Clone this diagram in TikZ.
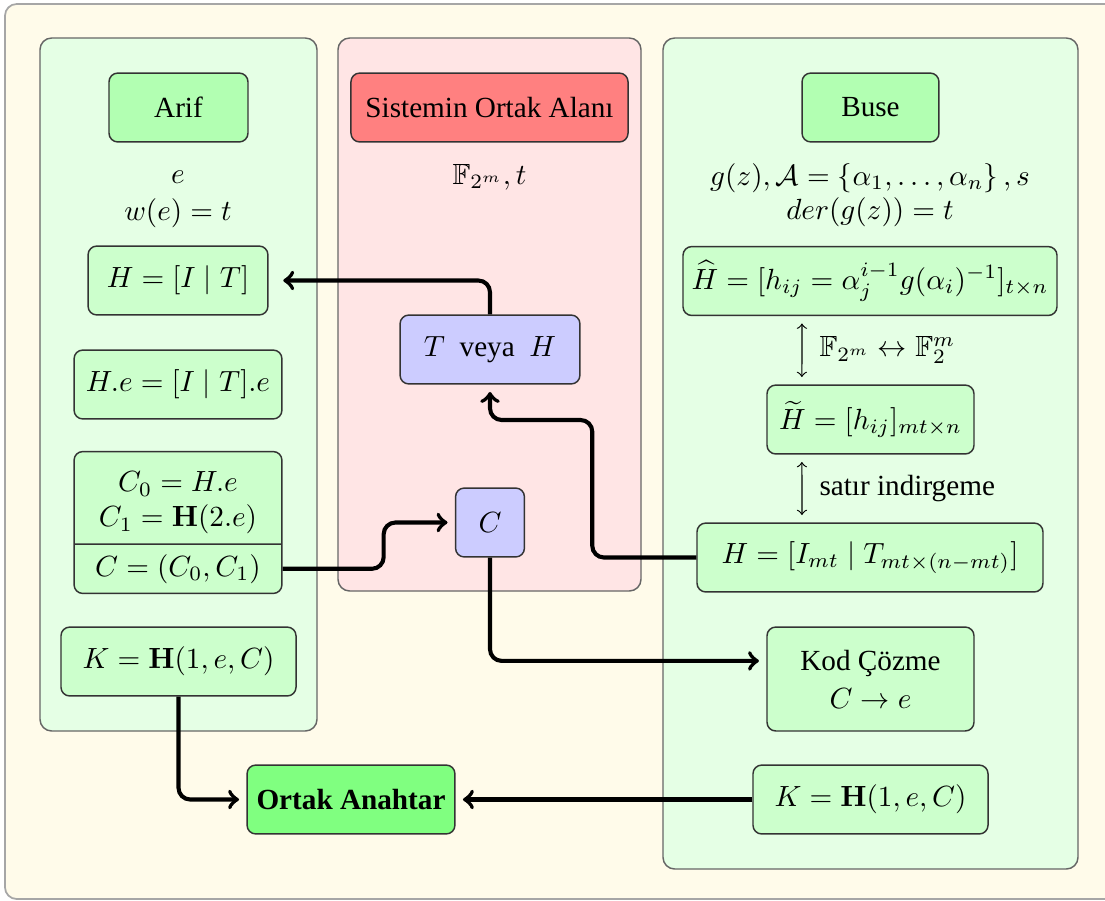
\documentclass[tikz,border=0pt]{standalone}
\usepackage{amsmath,amssymb}
\usepackage[no-math]{fontspec}
\setmainfont{Liberation Serif}
\usetikzlibrary{shapes.multipart,calc}
\definecolor{bgyel}{RGB}{255,251,234}
\tikzset{
  box/.style={draw=black!80, line width=0.5pt, rounded corners=3pt, minimum height=23.6pt, inner sep=2pt, align=center},
  panel/.style={draw=black!60, line width=0.5pt, rounded corners=4pt},
  arr/.style={line width=1.4pt, ->, rounded corners=4pt, shorten >=2.5pt},
  dbl/.style={line width=0.4pt, <->, shorten >=2.5pt, shorten <=2.5pt},
}
\begin{document}
\begin{tikzpicture}[x=0.3425pt, y=-0.3425pt]
\useasboundingbox (0,0) rectangle (1105,900);
% background and panels
\draw[fill=bgyel, draw=black!35, line width=0.6pt, rounded corners=4pt] (5,4) rectangle (1120,899);
\draw[panel, fill=green!10] (40,38) rectangle (317,731);
\draw[panel, fill=red!10] (338,38) rectangle (641,591);
\draw[panel, fill=green!10] (663,38) rectangle (1078,869);

% headers
\node[box, fill=green!30, minimum width=47.6pt] (arif) at (178.5,107.5) {Arif};
\node[box, fill=red!50, minimum width=94.9pt] (sist) at (489.5,107.5) {Sistemin Ortak Alanı};
\node[box, fill=green!30, minimum width=46.9pt] (buse) at (870.5,107.5) {Buse};

% parameters
\node[anchor=base] (ee) at (178,183) {$e$};
\node[anchor=base] (we) at (178,220) {$w(e)=t$};
\node[anchor=base] (fld) at (489.5,184) {$\mathbb{F}_{2^m}, t$};
\node[anchor=base] (gz) at (870,185) {$g(z), \mathcal{A}=\left\{\alpha_1,\ldots,\alpha_n\right\}, s$};
\node[anchor=base] (dg) at (870,219) {$der(g(z))=t$};

% left column
\node[box, fill=green!20, minimum height=0pt, rectangle split, rectangle split parts=2,
      text width=65pt, inner xsep=3.1pt, inner ysep=3.2pt] (cs) at (178,522.5)
  {\mbox{\rule{0pt}{10.3pt}$C_0=H.e$}\\\mbox{$C_1=\mathbf{H}(2.e)$}\nodepart{two}\mbox{$C=(C_0,C_1)$}};
\node[box, fill=green!20, minimum width=61.6pt] (hit) at (178,280.5) {$H=[I\mid T]$};
\node[box, fill=green!20, minimum width=71.2pt] (hde) at (178,384.5) {$H.e=[I\mid T].e$};
\node[box, fill=green!20, minimum width=80.5pt] (kl) at (178.5,661.5) {$K=\mathbf{H}(1,e,C)$};

% middle column
\node[box, fill=blue!20, minimum width=61.6pt] (tvh) at (490,349.5) {$T$~~veya~~$H$};
\node[box, fill=blue!20, minimum width=23.6pt] (cn) at (490,522.5) {$C$};
\node[box, fill=green!50, minimum width=71.2pt] (ortak) at (351,799.5) {\textbf{Ortak Anahtar}};

% right column
\node[box, fill=green!20, minimum width=128.1pt] (hhat) at (870,281)
  {$\widehat{H}=[h_{ij}=\alpha_j^{i-1}g(\alpha_i)^{-1}]_{t\times n}$};
\node[box, fill=green!20, minimum width=70.9pt] (htil) at (870.5,419.5) {$\widetilde{H}=[h_{ij}]_{mt\times n}$};
\node[box, fill=green!20, minimum width=118.5pt] (hr) at (870,557.5) {$H=[I_{mt}\mid T_{mt\times(n-mt)}]$};
\node[box, fill=green!20, minimum width=70.9pt, minimum height=35.6pt] (kod) at (870.5,679) {Kod Çözme\\[1pt]$C\rightarrow e$};
\node[box, fill=green!20, minimum width=80.5pt] (kr) at (870.5,799.5) {$K=\mathbf{H}(1,e,C)$};

% thin double arrows
\draw[dbl] ([xshift=-23.3pt]hhat.south) -- node[right, xshift=2.5pt] {$\mathbb{F}_{2^m}\leftrightarrow\mathbb{F}_2^m$} ([xshift=-23.5pt]htil.north);
\draw[dbl] ([xshift=-23.5pt]htil.south) -- node[right, xshift=2.5pt] {satır indirgeme} ([xshift=-23.3pt]hr.north);

% thick connectors
\draw[arr, shorten >=5pt] (tvh.north) |- (hit.east);
\draw[arr] (cs.two east) -- ++(101,0) |- (cn.west);
\draw[arr] (hr.west) -- ++(-104,0) -- ++(0,-137.5) -| (tvh.south);
\draw[arr] (cn.south) |- ([yshift=6.2pt]kod.west);
\draw[arr] (kl.south) |- (ortak.west);
\draw[arr] (kr.west) -- (ortak.east);
\end{tikzpicture}
\end{document}
